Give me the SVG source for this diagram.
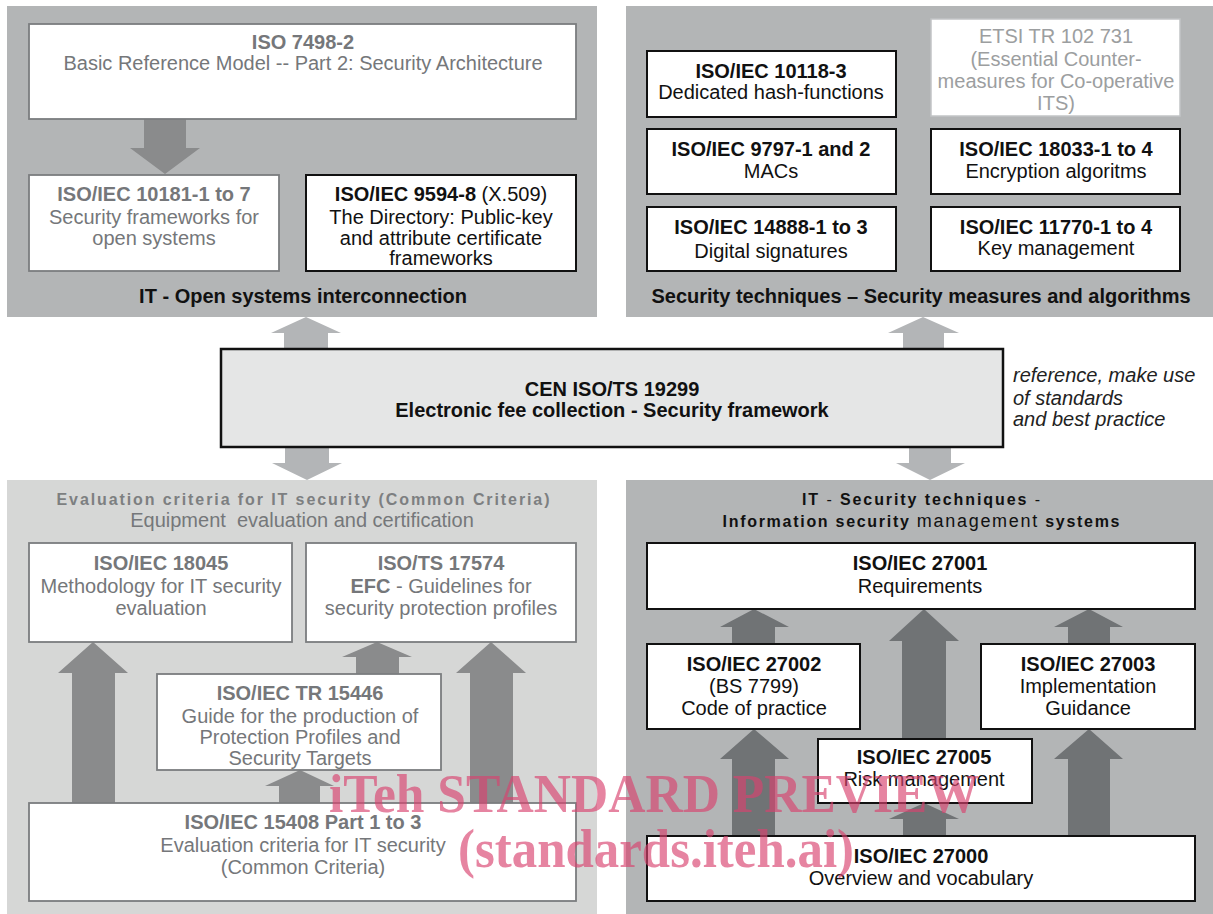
<svg xmlns="http://www.w3.org/2000/svg" width="1213" height="914" viewBox="0 0 1213 914">
  <style>
    text { font-family: "Liberation Sans", Arial, sans-serif; font-size: 20px; text-anchor: middle; }
    .b { font-weight: bold; }
    .n { font-weight: normal; }
    .ink { fill: #111; }
    .grey { fill: #75777a; }
    .faint { fill: #9c9ea0; }
    .head { font-size: 16px; font-weight: bold; }
    .head-n { font-size: 18px; font-weight: normal; }
    .panel-dark { fill: #b3b5b6; }
    .panel-light { fill: #d6d7d6; }
    .box { fill: #fff; stroke: #111; stroke-width: 2; }
    .box-grey { fill: #fff; stroke: #7b7d7f; stroke-width: 1.8; }
    .box-faint { fill: #fff; stroke: #c2c4c6; stroke-width: 1.5; }
    .core { fill: #e5e6e6; stroke: #111; stroke-width: 2.5; }
    .link { fill: #b3b5b7; }
    .arrow-mid { fill: #8a8b8c; }
    .arrow-dark { fill: #707375; }
    .note { font-style: italic; text-anchor: start; fill: #222; }
    .stamp { font-family: "Liberation Serif", "Times New Roman", serif; font-size: 54px; font-weight: bold; fill: #d8426f; fill-opacity: 0.65; }
  </style>

  <!-- Panel backgrounds and their titles -->
  <g id="panel-osi">
    <rect class="panel-dark" x="7" y="6" width="590" height="311"/>
    <text class="b ink" x="303" y="303">IT - Open systems interconnection</text>
  </g>
  <g id="panel-techniques">
    <rect class="panel-dark" x="626" y="6" width="587" height="311"/>
    <text class="b ink" x="921" y="303">Security techniques – Security measures and algorithms</text>
  </g>
  <g id="panel-common-criteria">
    <rect class="panel-light" x="7" y="480" width="590" height="434"/>
    <text class="head" x="303" y="505" fill="#7d7f81" textLength="493" lengthAdjust="spacing">Evaluation criteria for IT security (Common Criteria)</text>
    <text class="grey" x="302" y="527" xml:space="preserve">Equipment  evaluation and certification</text>
  </g>
  <g id="panel-isms">
    <rect class="panel-dark" x="626" y="480" width="587" height="434"/>
    <text class="head ink" x="921" y="505" textLength="238" lengthAdjust="spacing">IT <tspan class="n">-</tspan> Security techniques <tspan class="n">-</tspan></text>
    <text class="head ink" x="921" y="527" textLength="397" lengthAdjust="spacing">Information security <tspan class="head-n">management</tspan> systems</text>
  </g>

  <!-- Block-arrow connectors -->
  <g id="connectors">
    <!-- links between the security framework and the four panels -->
    <polygon class="link" points="306,317 341,333 328,333 328,349 284,349 284,333 271,333"/>
    <polygon class="link" points="307,480 342,463 329,463 329,447 285,447 285,463 272,463"/>
    <polygon class="link" points="923,317 959,333 944,333 944,349 903,349 903,333 888,333"/>
    <polygon class="link" points="930,480 965,463 951,463 951,447 909,447 909,463 896,463"/>

    <!-- ISO 7498-2 to ISO/IEC 10181 -->
    <polygon class="arrow-mid" points="165,174 200,148 186,148 186,118 144,118 144,148 130,148"/>

    <!-- Common Criteria family -->
    <polygon class="arrow-mid" points="93,642 128,673 115,673 115,803 72,803 72,673 58,673"/>
    <polygon class="arrow-mid" points="377,642 412,657 399,657 399,674 356,674 356,657 342,657"/>
    <polygon class="arrow-mid" points="491,642 526,673 513,673 513,803 470,803 470,673 456,673"/>
    <polygon class="arrow-mid" points="300,770 334,786 320,786 320,803 279,803 279,786 265,786"/>

    <!-- ISMS family -->
    <polygon class="arrow-dark" points="754,609 789,627 775,627 775,644 732,644 732,627 720,627"/>
    <polygon class="arrow-dark" points="924,609 959,641 946,641 946,739 902,739 902,641 889,641"/>
    <polygon class="arrow-dark" points="1089,609 1123,627 1110,627 1110,644 1068,644 1068,627 1054,627"/>
    <polygon class="arrow-dark" points="754,729 789,759 775,759 775,836 732,836 732,759 720,759"/>
    <polygon class="arrow-dark" points="924,803 959,819 946,819 946,836 903,836 903,819 889,819"/>
    <polygon class="arrow-dark" points="1089,729 1123,759 1110,759 1110,836 1068,836 1068,759 1054,759"/>
  </g>

  <!-- Open systems interconnection -->
  <g id="iso-7498-2">
    <rect class="box-grey" x="29" y="24" width="547" height="95"/>
    <text class="b grey" x="303" y="49">ISO 7498-2</text>
    <text class="grey" x="303" y="70">Basic Reference Model -- Part 2: Security Architecture</text>
  </g>
  <g id="iso-iec-10181">
    <rect class="box-grey" x="29" y="175" width="250" height="96"/>
    <text class="b grey" x="154" y="201">ISO/IEC 10181-1 to 7</text>
    <text class="grey" x="154" y="224">Security frameworks for</text>
    <text class="grey" x="154" y="245">open systems</text>
  </g>
  <g id="iso-iec-9594-8">
    <rect class="box" x="306" y="175" width="270" height="96"/>
    <text class="b ink" x="441" y="201">ISO/IEC 9594-8 <tspan class="n">(X.509)</tspan></text>
    <text class="ink" x="441" y="224">The Directory: Public-key</text>
    <text class="ink" x="441" y="245">and attribute certificate</text>
    <text class="ink" x="441" y="265">frameworks</text>
  </g>

  <!-- Security measures and algorithms -->
  <g id="iso-iec-10118-3">
    <rect class="box" x="647" y="51" width="249" height="66"/>
    <text class="b ink" x="771" y="78">ISO/IEC 10118-3</text>
    <text class="ink" x="771" y="99">Dedicated hash-functions</text>
  </g>
  <g id="etsi-tr-102-731">
    <rect class="box-faint" x="931" y="19" width="249" height="97"/>
    <text class="faint" x="1056" y="43">ETSI TR 102 731</text>
    <text class="faint" x="1056" y="66">(Essential Counter-</text>
    <text class="faint" x="1056" y="88">measures for Co-operative</text>
    <text class="faint" x="1056" y="110">ITS)</text>
  </g>
  <g id="iso-iec-9797">
    <rect class="box" x="647" y="129" width="249" height="65"/>
    <text class="b ink" x="771" y="156">ISO/IEC 9797-1 and 2</text>
    <text class="ink" x="771" y="178">MACs</text>
  </g>
  <g id="iso-iec-18033">
    <rect class="box" x="931" y="129" width="249" height="65"/>
    <text class="b ink" x="1056" y="156">ISO/IEC 18033-1 to 4</text>
    <text class="ink" x="1056" y="178">Encryption algoritms</text>
  </g>
  <g id="iso-iec-14888">
    <rect class="box" x="647" y="207" width="249" height="64"/>
    <text class="b ink" x="771" y="234">ISO/IEC 14888-1 to 3</text>
    <text class="ink" x="771" y="258">Digital signatures</text>
  </g>
  <g id="iso-iec-11770">
    <rect class="box" x="931" y="207" width="249" height="64"/>
    <text class="b ink" x="1056" y="234">ISO/IEC 11770-1 to 4</text>
    <text class="ink" x="1056" y="255">Key management</text>
  </g>

  <!-- Central framework -->
  <g id="cen-iso-ts-19299">
    <rect class="core" x="221" y="349" width="782" height="98"/>
    <text class="b ink" x="612" y="396">CEN ISO/TS 19299</text>
    <text class="b ink" x="612" y="417">Electronic fee collection - Security framework</text>
  </g>
  <g id="usage-note">
    <text class="note" x="1013" y="382">reference, make use</text>
    <text class="note" x="1013" y="405">of standards</text>
    <text class="note" x="1013" y="426">and best practice</text>
  </g>

  <!-- Common Criteria family -->
  <g id="iso-iec-18045">
    <rect class="box-grey" x="29" y="543" width="263" height="99"/>
    <text class="b grey" x="161" y="570">ISO/IEC 18045</text>
    <text class="grey" x="161" y="593">Methodology for IT security</text>
    <text class="grey" x="161" y="615">evaluation</text>
  </g>
  <g id="iso-ts-17574">
    <rect class="box-grey" x="306" y="543" width="270" height="99"/>
    <text class="b grey" x="441" y="570">ISO/TS 17574</text>
    <text class="grey" x="441" y="593"><tspan class="b">EFC</tspan> - Guidelines for</text>
    <text class="grey" x="441" y="615">security protection profiles</text>
  </g>
  <g id="iso-iec-tr-15446">
    <rect class="box-grey" x="157" y="674" width="284" height="96"/>
    <text class="b grey" x="300" y="700">ISO/IEC TR 15446</text>
    <text class="grey" x="300" y="723">Guide for the production of</text>
    <text class="grey" x="300" y="744">Protection Profiles and</text>
    <text class="grey" x="300" y="765">Security Targets</text>
  </g>
  <g id="iso-iec-15408">
    <rect class="box-grey" x="29" y="803" width="547" height="98"/>
    <text class="b grey" x="303" y="829">ISO/IEC 15408 Part 1 to 3</text>
    <text class="grey" x="303" y="852">Evaluation criteria for IT security</text>
    <text class="grey" x="303" y="874">(Common Criteria)</text>
  </g>

  <!-- ISMS family -->
  <g id="iso-iec-27001">
    <rect class="box" x="647" y="543" width="548" height="66"/>
    <text class="b ink" x="920" y="570">ISO/IEC 27001</text>
    <text class="ink" x="920" y="593">Requirements</text>
  </g>
  <g id="iso-iec-27002">
    <rect class="box" x="647" y="644" width="213" height="85"/>
    <text class="b ink" x="754" y="671">ISO/IEC 27002</text>
    <text class="ink" x="754" y="693">(BS 7799)</text>
    <text class="ink" x="754" y="715">Code of practice</text>
  </g>
  <g id="iso-iec-27003">
    <rect class="box" x="981" y="644" width="214" height="85"/>
    <text class="b ink" x="1088" y="671">ISO/IEC 27003</text>
    <text class="ink" x="1088" y="693">Implementation</text>
    <text class="ink" x="1088" y="715">Guidance</text>
  </g>
  <g id="iso-iec-27005">
    <rect class="box" x="818" y="739" width="214" height="64"/>
    <text class="b ink" x="924" y="764">ISO/IEC 27005</text>
    <text class="ink" x="924" y="786">Risk management</text>
  </g>
  <g id="iso-iec-27000">
    <rect class="box" x="647" y="836" width="548" height="65"/>
    <text class="b ink" x="921" y="863">ISO/IEC 27000</text>
    <text class="ink" x="921" y="885">Overview and vocabulary</text>
  </g>

  <!-- Preview stamp -->
  <g id="preview-stamp">
    <text class="stamp" x="654" y="812" textLength="650" lengthAdjust="spacingAndGlyphs">iTeh STANDARD PREVIEW</text>
    <text class="stamp" x="656" y="867" textLength="396" lengthAdjust="spacingAndGlyphs">(standards.iteh.ai)</text>
  </g>
</svg>
